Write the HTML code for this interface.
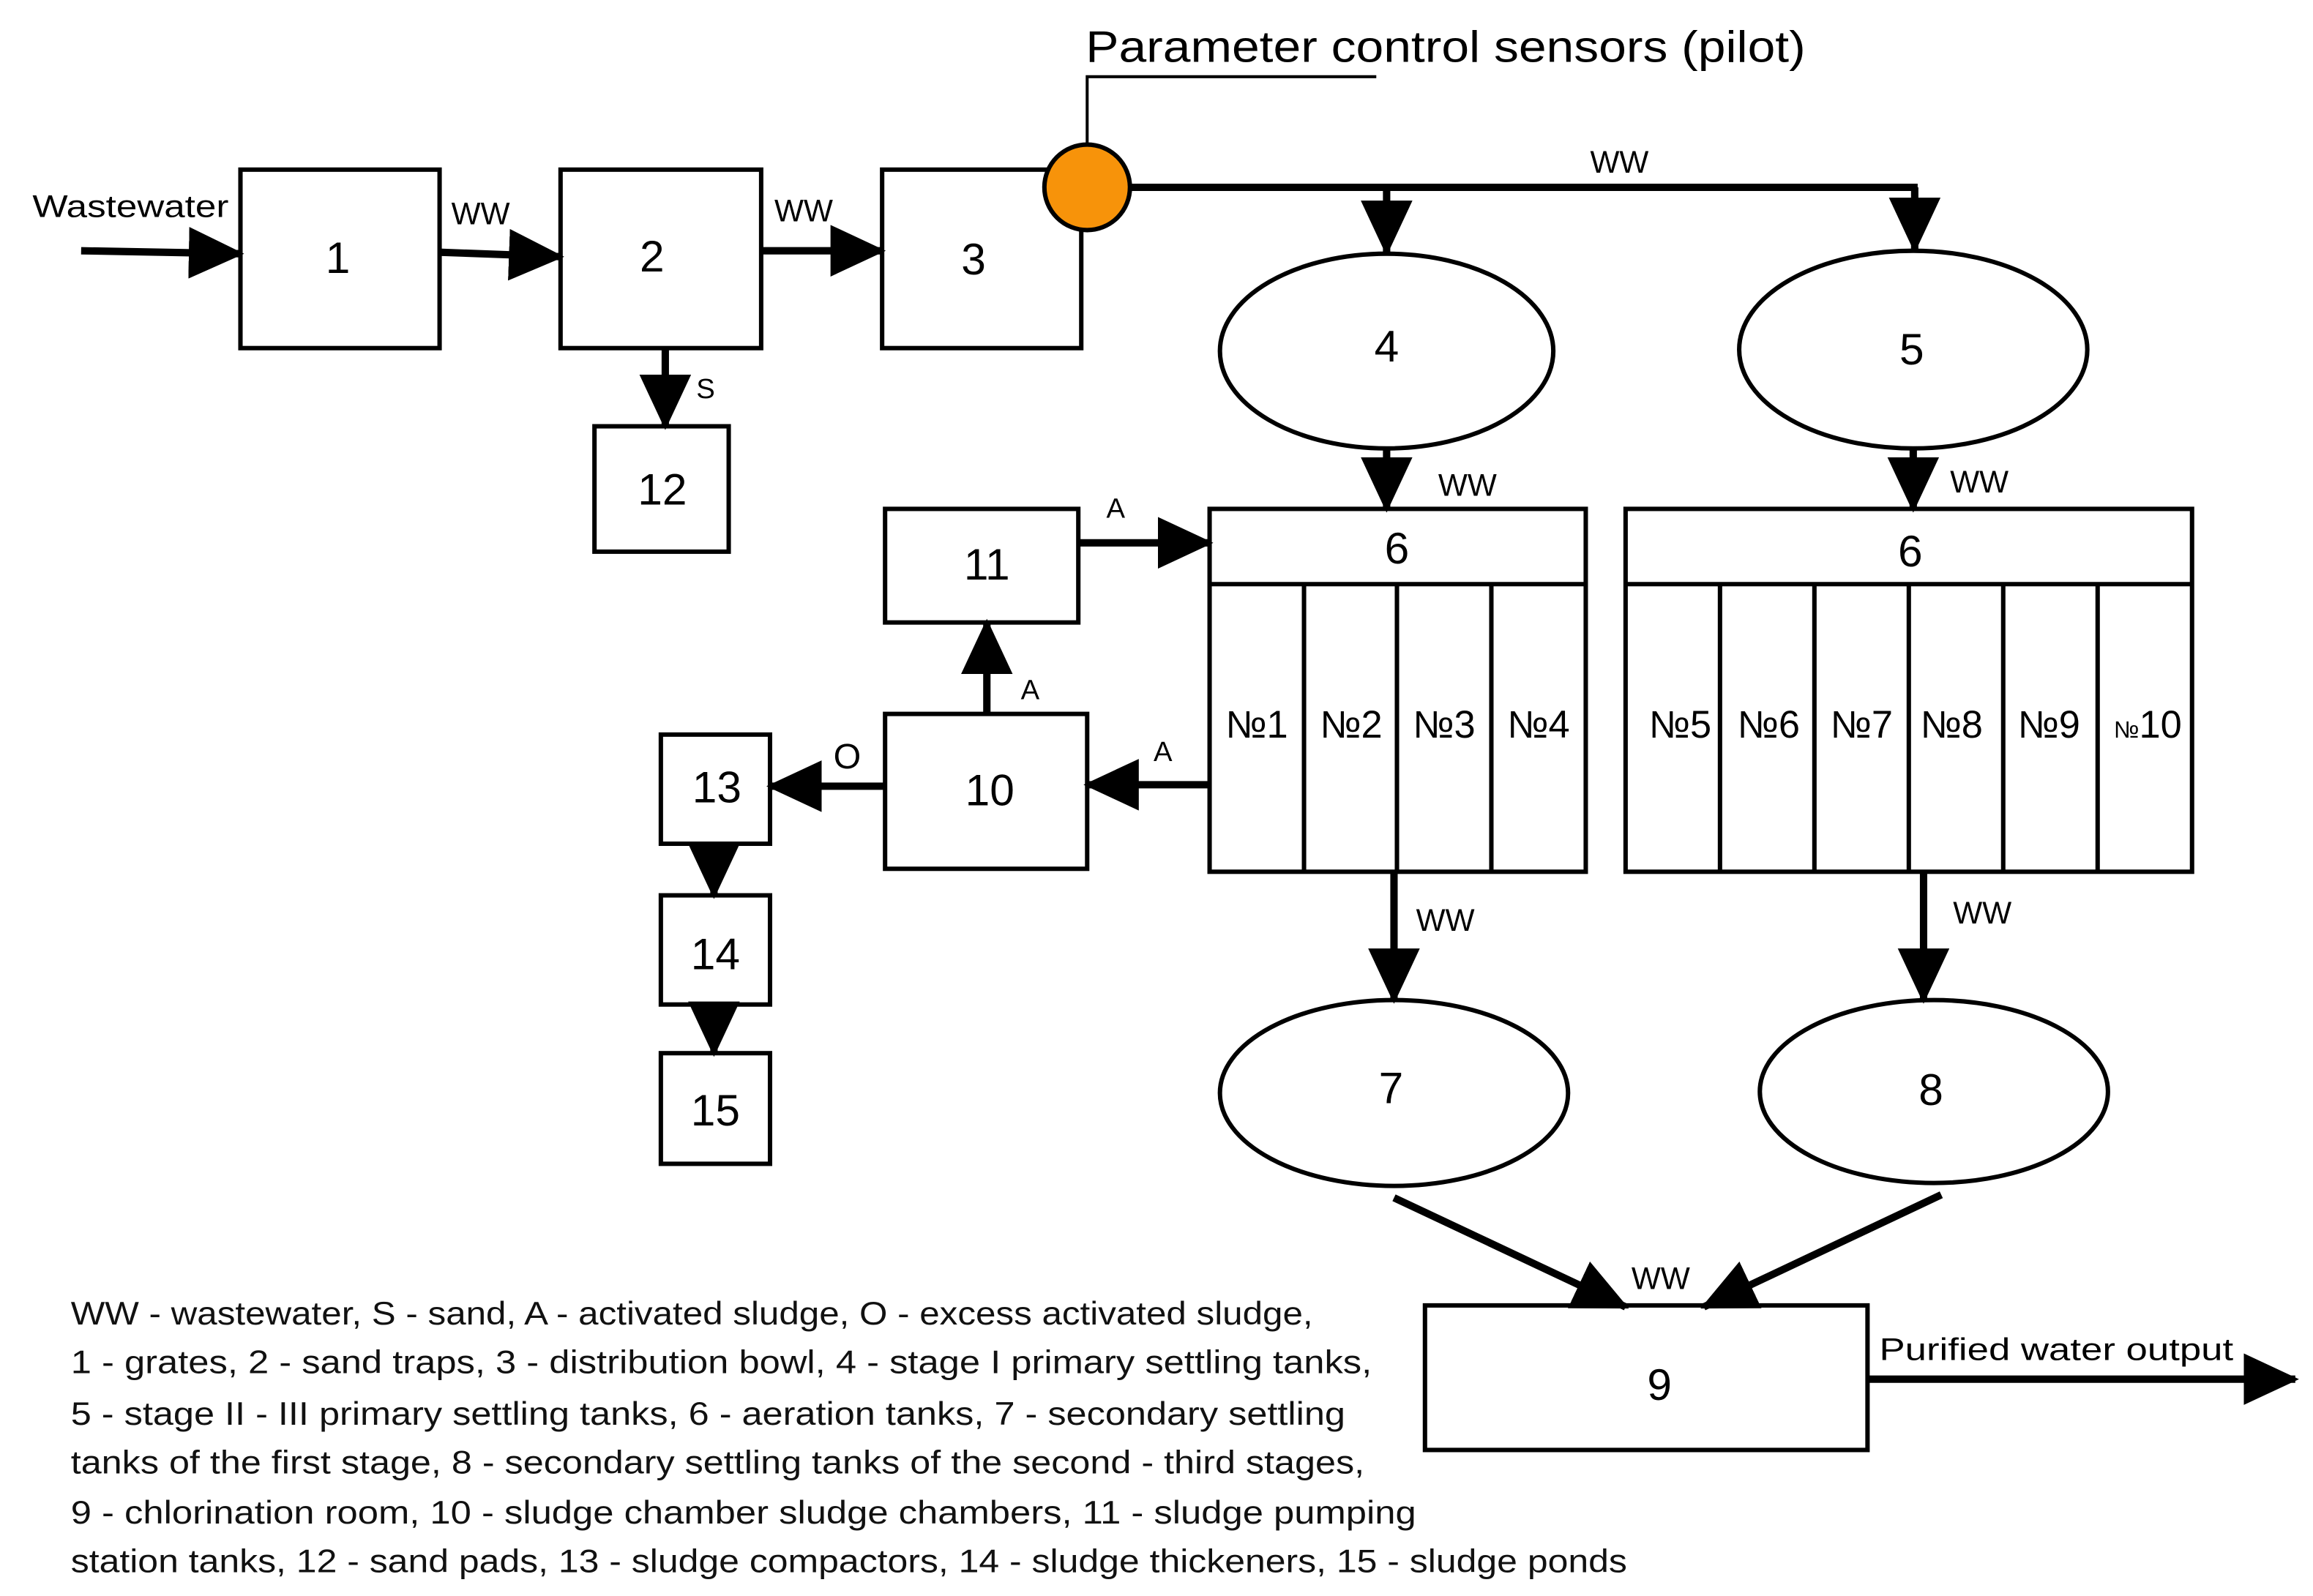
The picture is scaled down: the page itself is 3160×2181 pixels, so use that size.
<!DOCTYPE html>
<html><head><meta charset="utf-8"><style>html,body{margin:0;padding:0;background:#fff}svg{display:block}</style></head><body>
<svg width="3160" height="2181" viewBox="0 0 1568 1082" preserveAspectRatio="none" xmlns="http://www.w3.org/2000/svg" font-family="Liberation Sans, sans-serif">
<defs><marker id="a" markerWidth="7.5" markerHeight="7" refX="7" refY="3.5" orient="auto" markerUnits="strokeWidth"><path d="M0,0 L7.5,3.5 L0,7 z" fill="#000"/></marker></defs>
<g fill="#fff" stroke="#000" stroke-width="3">
<rect x="163" y="115" width="135" height="121"/>
<rect x="380" y="115" width="136" height="121"/>
<rect x="598" y="115" width="135" height="121"/>
<rect x="403" y="289" width="91" height="85"/>
<rect x="600" y="345" width="131" height="77"/>
<rect x="600" y="484" width="137" height="105"/>
<rect x="448" y="498" width="74" height="74"/>
<rect x="448" y="607" width="74" height="74"/>
<rect x="448" y="714" width="74" height="75"/>
<ellipse cx="940" cy="238" rx="113" ry="66"/>
<ellipse cx="1297" cy="237" rx="118" ry="67"/>
<ellipse cx="945" cy="741" rx="118" ry="63"/>
<ellipse cx="1311" cy="740" rx="118" ry="62"/>
<rect x="820" y="345" width="255" height="246"/>
<line x1="820" y1="396" x2="1075" y2="396"/>
<line x1="884" y1="396" x2="884" y2="591"/><line x1="947" y1="396" x2="947" y2="591"/><line x1="1011" y1="396" x2="1011" y2="591"/>
<rect x="1102" y="345" width="384" height="246"/>
<line x1="1102" y1="396" x2="1486" y2="396"/>
<line x1="1166" y1="396" x2="1166" y2="591"/><line x1="1230" y1="396" x2="1230" y2="591"/><line x1="1294" y1="396" x2="1294" y2="591"/><line x1="1358" y1="396" x2="1358" y2="591"/><line x1="1422" y1="396" x2="1422" y2="591"/>
<rect x="966" y="885" width="300" height="98"/>
</g>
<g stroke="#000" stroke-width="2" fill="none"><polyline points="737,100 737,52 933,52"/></g>
<g stroke="#000" stroke-width="5" fill="none" marker-end="url(#a)">
<line x1="55" y1="170" x2="163" y2="172"/>
<line x1="298" y1="171" x2="380" y2="174"/>
<line x1="516" y1="170" x2="598" y2="170"/>
<line x1="451" y1="236" x2="451" y2="289"/>
<line x1="940" y1="127" x2="940" y2="171"/>
<line x1="1298" y1="127" x2="1298" y2="169"/>
<line x1="940" y1="305" x2="940" y2="345"/>
<line x1="1297" y1="305" x2="1297" y2="345"/>
<line x1="731" y1="368" x2="820" y2="368"/>
<line x1="669" y1="484" x2="669" y2="422"/>
<line x1="820" y1="532" x2="737" y2="532"/>
<line x1="600" y1="533" x2="522" y2="533"/>
<line x1="484" y1="572" x2="484" y2="607"/>
<line x1="484" y1="681" x2="484" y2="714"/>
<line x1="945" y1="591" x2="945" y2="678"/>
<line x1="1304" y1="591" x2="1304" y2="678"/>
<line x1="945" y1="812" x2="1102" y2="886"/>
<line x1="1316" y1="810" x2="1155" y2="886"/>
<line x1="1266" y1="935" x2="1556" y2="935"/>
</g>
<line x1="764" y1="127" x2="1300" y2="127" stroke="#000" stroke-width="5"/>
<circle cx="737" cy="127" r="29" fill="#f7930a" stroke="#000" stroke-width="3"/>
<g font-size="30" text-anchor="middle" fill="#000">
<text x="229" y="185">1</text><text x="442" y="184">2</text><text x="660" y="186">3</text>
<text x="449" y="342">12</text><text x="669" y="393">11</text><text x="671" y="546">10</text>
<text x="486" y="544">13</text><text x="485" y="657">14</text><text x="485" y="763">15</text>
<text x="940" y="245">4</text><text x="1296" y="247">5</text>
<text x="943" y="748">7</text><text x="1309" y="749">8</text>
<text x="947" y="382">6</text><text x="1295" y="384">6</text>
<text x="1125" y="949">9</text>
</g>
<g font-size="26" text-anchor="middle">
<text x="852" y="500">№1</text><text x="916" y="500">№2</text><text x="979" y="500">№3</text><text x="1043" y="500">№4</text>
<text x="1139" y="500">№5</text><text x="1199" y="500">№6</text><text x="1262" y="500">№7</text><text x="1323" y="500">№8</text><text x="1389" y="500">№9</text><text x="1456" y="500"><tspan font-size="16">№</tspan>10</text>
</g>
<g font-size="21">
<text x="22" y="147" textLength="133" lengthAdjust="spacingAndGlyphs">Wastewater</text>
<text x="306" y="152">WW</text><text x="525" y="150">WW</text><text x="1078" y="117">WW</text>
<text x="975" y="336">WW</text><text x="1322" y="334">WW</text>
<text x="960" y="631">WW</text><text x="1324" y="626">WW</text><text x="1106" y="874">WW</text>
<text x="472" y="270" font-size="19">S</text><text x="750" y="351" font-size="19">A</text>
<text x="692" y="474" font-size="19">A</text><text x="782" y="516" font-size="19">A</text>
<text x="565" y="521" font-size="24">O</text>
<text x="1274" y="922" textLength="240" lengthAdjust="spacingAndGlyphs">Purified water output</text>
</g>
<text x="736" y="42" font-size="30" textLength="488" lengthAdjust="spacingAndGlyphs">Parameter control sensors (pilot)</text>
<g font-size="22" fill="#111">
<text x="48" y="898" textLength="842" lengthAdjust="spacingAndGlyphs">WW - wastewater, S - sand, A - activated sludge, O - excess activated sludge,</text>
<text x="48" y="931" textLength="882" lengthAdjust="spacingAndGlyphs">1 - grates, 2 - sand traps, 3 - distribution bowl, 4 - stage I primary settling tanks,</text>
<text x="48" y="966" textLength="864" lengthAdjust="spacingAndGlyphs">5 - stage II - III primary settling tanks, 6 - aeration tanks, 7 - secondary settling</text>
<text x="48" y="999" textLength="877" lengthAdjust="spacingAndGlyphs">tanks of the first stage, 8 - secondary settling tanks of the second - third stages,</text>
<text x="48" y="1033" textLength="912" lengthAdjust="spacingAndGlyphs">9 - chlorination room, 10 - sludge chamber sludge chambers, 11 - sludge pumping</text>
<text x="48" y="1066" textLength="1055" lengthAdjust="spacingAndGlyphs">station tanks, 12 - sand pads, 13 - sludge compactors, 14 - sludge thickeners, 15 - sludge ponds</text>
</g>
</svg>
</body></html>
